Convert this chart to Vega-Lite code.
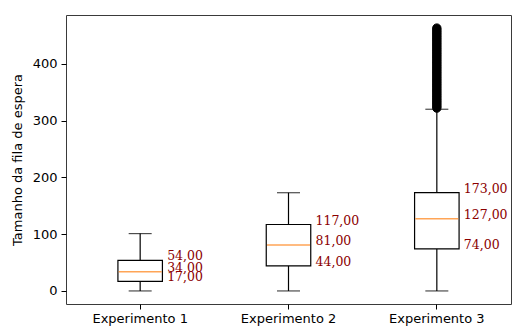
{
  "$schema": "https://vega.github.io/schema/vega-lite/v6.json",
  "width": 445,
  "height": 289,
  "autosize": "none",
  "padding": {"left": 66, "top": 15, "right": 2, "bottom": 23},
  "background": "white",
  "config": {
    "view": {"stroke": "#3a3a3a", "strokeWidth": 1},
    "locale": {"number": {"decimal": ",", "thousands": ".", "grouping": [3], "currency": ["", ""]}},
    "axis": {
      "labelFont": "DejaVu Sans",
      "titleFont": "DejaVu Sans",
      "labelFontSize": 13,
      "titleFontSize": 13,
      "titleFontWeight": "normal",
      "labelColor": "black",
      "titleColor": "black",
      "tickColor": "black",
      "tickSize": 5,
      "domain": false,
      "grid": false
    }
  },
  "datasets": {
    "stats": [
      {"exp": "Experimento 1", "lo": 0, "q1": 17, "med": 34, "q3": 54, "hi": 101},
      {"exp": "Experimento 2", "lo": 0, "q1": 44, "med": 81, "q3": 117, "hi": 173},
      {"exp": "Experimento 3", "lo": 0, "q1": 74, "med": 127, "q3": 173, "hi": 320}
    ],
    "fliers": [
      {"exp": "Experimento 3", "v": 322}, {"exp": "Experimento 3", "v": 325}, {"exp": "Experimento 3", "v": 328},
      {"exp": "Experimento 3", "v": 331}, {"exp": "Experimento 3", "v": 334}, {"exp": "Experimento 3", "v": 337},
      {"exp": "Experimento 3", "v": 340}, {"exp": "Experimento 3", "v": 343}, {"exp": "Experimento 3", "v": 346},
      {"exp": "Experimento 3", "v": 349}, {"exp": "Experimento 3", "v": 352}, {"exp": "Experimento 3", "v": 355},
      {"exp": "Experimento 3", "v": 358}, {"exp": "Experimento 3", "v": 361}, {"exp": "Experimento 3", "v": 364},
      {"exp": "Experimento 3", "v": 367}, {"exp": "Experimento 3", "v": 370}, {"exp": "Experimento 3", "v": 373},
      {"exp": "Experimento 3", "v": 376}, {"exp": "Experimento 3", "v": 379}, {"exp": "Experimento 3", "v": 382},
      {"exp": "Experimento 3", "v": 385}, {"exp": "Experimento 3", "v": 388}, {"exp": "Experimento 3", "v": 391},
      {"exp": "Experimento 3", "v": 394}, {"exp": "Experimento 3", "v": 397}, {"exp": "Experimento 3", "v": 400},
      {"exp": "Experimento 3", "v": 403}, {"exp": "Experimento 3", "v": 406}, {"exp": "Experimento 3", "v": 409},
      {"exp": "Experimento 3", "v": 412}, {"exp": "Experimento 3", "v": 415}, {"exp": "Experimento 3", "v": 418},
      {"exp": "Experimento 3", "v": 421}, {"exp": "Experimento 3", "v": 424}, {"exp": "Experimento 3", "v": 427},
      {"exp": "Experimento 3", "v": 430}, {"exp": "Experimento 3", "v": 433}, {"exp": "Experimento 3", "v": 436},
      {"exp": "Experimento 3", "v": 439}, {"exp": "Experimento 3", "v": 442}, {"exp": "Experimento 3", "v": 445},
      {"exp": "Experimento 3", "v": 448}, {"exp": "Experimento 3", "v": 451}, {"exp": "Experimento 3", "v": 454},
      {"exp": "Experimento 3", "v": 457}, {"exp": "Experimento 3", "v": 460}, {"exp": "Experimento 3", "v": 463}
    ]
  },
  "encoding": {
    "x": {
      "field": "exp", "type": "nominal",
      "scale": {"type": "band", "paddingInner": 0, "paddingOuter": 0, "domain": ["Experimento 1", "Experimento 2", "Experimento 3"]},
      "axis": {"title": null, "labelAngle": 0, "labelPadding": 3}
    }
  },
  "layer": [
    {
      "data": {"name": "stats"},
      "mark": {"type": "rule", "color": "black", "strokeWidth": 1.2},
      "encoding": {
        "y": {"field": "lo", "type": "quantitative",
          "scale": {"domain": [-23, 486], "nice": false, "zero": false},
          "axis": {"values": [0, 100, 200, 300, 400], "title": "Tamanho da fila de espera", "labelPadding": 4, "titlePadding": 8}},
        "y2": {"field": "hi"}
      }
    },
    {
      "data": {"name": "stats"},
      "mark": {"type": "tick", "color": "black", "size": 23, "thickness": 1.2},
      "encoding": {"y": {"field": "lo", "type": "quantitative"}}
    },
    {
      "data": {"name": "stats"},
      "mark": {"type": "tick", "color": "black", "size": 23, "thickness": 1.2},
      "encoding": {"y": {"field": "hi", "type": "quantitative"}}
    },
    {
      "data": {"name": "fliers"},
      "mark": {"type": "point", "shape": "circle", "filled": true, "fill": "black", "stroke": "black", "strokeWidth": 1, "size": 70, "opacity": 1},
      "encoding": {"y": {"field": "v", "type": "quantitative"}}
    },
    {
      "data": {"name": "stats"},
      "mark": {"type": "bar", "fill": "white", "stroke": "black", "strokeWidth": 1.2, "size": 44.5},
      "encoding": {
        "y": {"field": "q1", "type": "quantitative"},
        "y2": {"field": "q3"}
      }
    },
    {
      "data": {"name": "stats"},
      "mark": {"type": "tick", "color": "#ff7f0e", "size": 43, "thickness": 1.5},
      "encoding": {"y": {"field": "med", "type": "quantitative"}}
    },
    {
      "data": {"name": "stats"},
      "transform": [{"fold": ["q1", "med", "q3"], "as": ["stat", "val"]}],
      "mark": {"type": "text", "align": "left", "baseline": "middle", "dx": 27, "dy": -4, "font": "DejaVu Serif", "fontSize": 12.5, "color": "#8b0000"},
      "encoding": {
        "y": {"field": "val", "type": "quantitative"},
        "text": {"field": "val", "type": "quantitative", "format": ".2f"}
      }
    }
  ]
}
